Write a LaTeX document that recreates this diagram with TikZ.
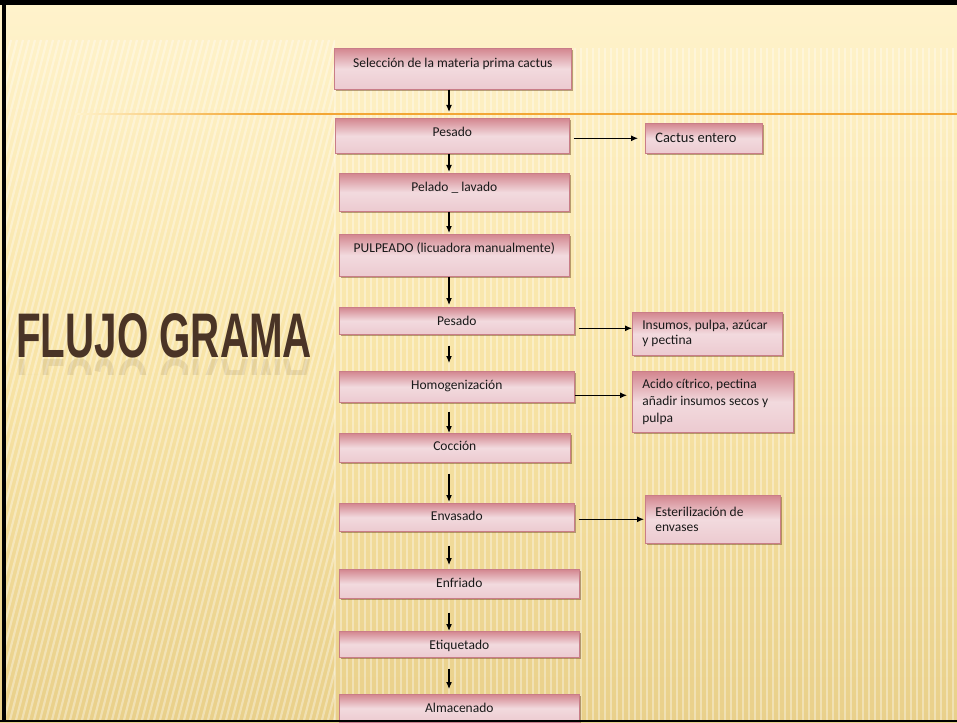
\documentclass[tikz,border=0pt]{standalone}
\usepackage{fontspec}
\usepackage{graphicx}
\setmainfont{Carlito}
\newfontfamily\titlefont{Liberation Sans}
\usetikzlibrary{arrows.meta,shadows}
\definecolor{bgtop}{HTML}{FFF3CC}
\definecolor{bgmid}{HTML}{F8E4A6}
\definecolor{bgbot}{HTML}{E9D08A}
\definecolor{boxtop}{HTML}{D3868F}
\definecolor{boxmid}{HTML}{F2DADE}
\definecolor{boxbot}{HTML}{ECCAD0}
\definecolor{boxline}{HTML}{C97D88}
\definecolor{linea}{HTML}{F3A634}
\definecolor{titulo}{HTML}{4A3426}
\tikzset{
  stepbox/.style={draw=boxline, line width=0.6pt, top color=boxtop, bottom color=boxbot, middle color=boxmid,
    inner sep=0pt, anchor=north west, text=black!90, font=\fontsize{13.5}{15}\selectfont,
    drop shadow={shadow xshift=2pt, shadow yshift=-2pt, fill=brown!60!black, opacity=0.5}},
  sidebox/.style={stepbox, inner xsep=10pt, align=flush left},
  arr/.style={-{Latex[length=7pt,width=6pt]}, line width=1.1pt}
}
\begin{document}
\begin{tikzpicture}[x=1pt,y=-1pt]
\pgfmathsetmacro{\ejex}{449}
\useasboundingbox (0,0) rectangle (957,722);
\shade[top color=bgtop, bottom color=bgbot, middle color=bgmid] (0,0) rectangle (957,722);
\begin{scope}
\clip (6,40) rectangle (335,720);
\foreach \x in {-200,-194,...,340}
  \draw[white, opacity=0.35, line width=2.2pt] (\x,720) -- (\x+175,40);
\end{scope}
\foreach \x in {335,341,...,957}
  \draw[white, opacity=0.35, line width=2.2pt] (\x,48) -- (\x,720);
\shade[left color=bgtop, right color=linea] (75,113.3) rectangle (260,114.8);
\fill[linea] (260,113.3) rectangle (957,114.8);

\node[font=\titlefont\bfseries\fontsize{63}{63}\selectfont, text=titulo, anchor=base west, inner sep=0pt] (titulo) at (16,357) {\scalebox{0.64}[1]{FLUJO GRAMA}};
\begin{scope}
\clip (10,358) rectangle (320,374);
\node[font=\titlefont\bfseries\fontsize{63}{63}\selectfont, text=titulo, opacity=0.1, transform shape, yscale=-1, anchor=base west, inner sep=0pt] at (16,359) {\scalebox{0.64}[1]{FLUJO GRAMA}};
\end{scope}

\node[stepbox, minimum width=237pt, text height=19pt, text depth=22pt] (sel) at (334,48) {Selección de la materia prima cactus};
\node[stepbox, minimum width=234pt, text height=18pt, text depth=17pt] (pes1) at (335,118) {Pesado};
\node[sidebox, text width=97pt, minimum height=30pt, font=\fontsize{14.5}{16}\selectfont] (cact) at (645,123) {Cactus entero};
\node[stepbox, minimum width=230pt, text height=18pt, text depth=20pt] (pel) at (339,173) {Pelado \_ lavado};
\node[stepbox, minimum width=230pt, text height=18pt, text depth=24pt] (pulp) at (339,234) {PULPEADO (licuadora manualmente)};
\node[stepbox, minimum width=235pt, text height=18pt, text depth=9pt] (pes2) at (339,307) {Pesado};
\node[sidebox, text width=130pt, minimum height=43pt, font=\fontsize{13.5}{15}\selectfont] (ins) at (632,312) {Insumos, pulpa, azúcar\\y pectina};
\node[stepbox, minimum width=235pt, text height=18pt, text depth=13pt] (homo) at (339,371) {Homogenización};
\node[sidebox, text width=141pt, minimum height=61pt, font=\fontsize{13.5}{17}\selectfont] (acid) at (632,371) {Acido cítrico, pectina\\añadir insumos secos y\\pulpa};
\node[stepbox, minimum width=231pt, text height=17pt, text depth=12pt] (cocc) at (339,433) {Cocción};
\node[stepbox, minimum width=235pt, text height=17pt, text depth=11pt] (env) at (339,503) {Envasado};
\node[sidebox, text width=115pt, minimum height=48pt, font=\fontsize{13.5}{15.5}\selectfont] (est) at (645,495) {Esterilización de\\envases};
\node[stepbox, minimum width=240pt, text height=18pt, text depth=11pt] (enf) at (339,569) {Enfriado};
\node[stepbox, minimum width=240pt, text height=18pt, text depth=8pt] (eti) at (339,631) {Etiquetado};
\node[stepbox, minimum width=240pt, text height=18pt, text depth=10pt] (alm) at (339,694) {Almacenado};

\coordinate (eje) at (\ejex,0);
\draw[arr, shorten >=6pt] (sel.south -| eje) -- (pes1.north -| eje);
\draw[arr, shorten >=1pt] (pes1.south -| eje) -- (pel.north -| eje);
\draw[arr, shorten >=1pt] (pel.south -| eje) -- (pulp.north -| eje);
\draw[arr, shorten >=2pt] (pulp.south -| eje) -- (pes2.north -| eje);
\draw[arr, shorten <=11pt, shorten >=8pt] (pes2.south -| eje) -- (homo.north -| eje);
\draw[arr, shorten <=9pt] (homo.south -| eje) -- (cocc.north -| eje);
\draw[arr, shorten <=11pt, shorten >=1pt] (cocc.south -| eje) -- (env.north -| eje);
\draw[arr, shorten <=14pt, shorten >=4pt] (env.south -| eje) -- (enf.north -| eje);
\draw[arr, shorten <=14pt] (enf.south -| eje) -- (eti.north -| eje);
\draw[arr, shorten <=11pt, shorten >=5pt] (eti.south -| eje) -- (alm.north -| eje);

\coordinate (p2) at ([yshift=-7.5pt]pes2.east);
\coordinate (h2) at ([yshift=-8.5pt]homo.east);
\draw[arr, shorten <=4pt, shorten >=7pt] (pes1.east |- cact.west) -- (cact.west);
\draw[arr, shorten <=4pt] (p2) -- (p2 -| ins.west);
\draw[arr, shorten >=5pt] (h2) -- (h2 -| acid.west);
\draw[arr, shorten <=4pt, shorten >=1pt] (env.east |- est.west) -- (est.west);

\fill[black] (0,0) rectangle (957,5);
\fill[black] (2,0) rectangle (6,722);
\fill[black] (0,719.5) rectangle (957,722);
\end{tikzpicture}
\end{document}
